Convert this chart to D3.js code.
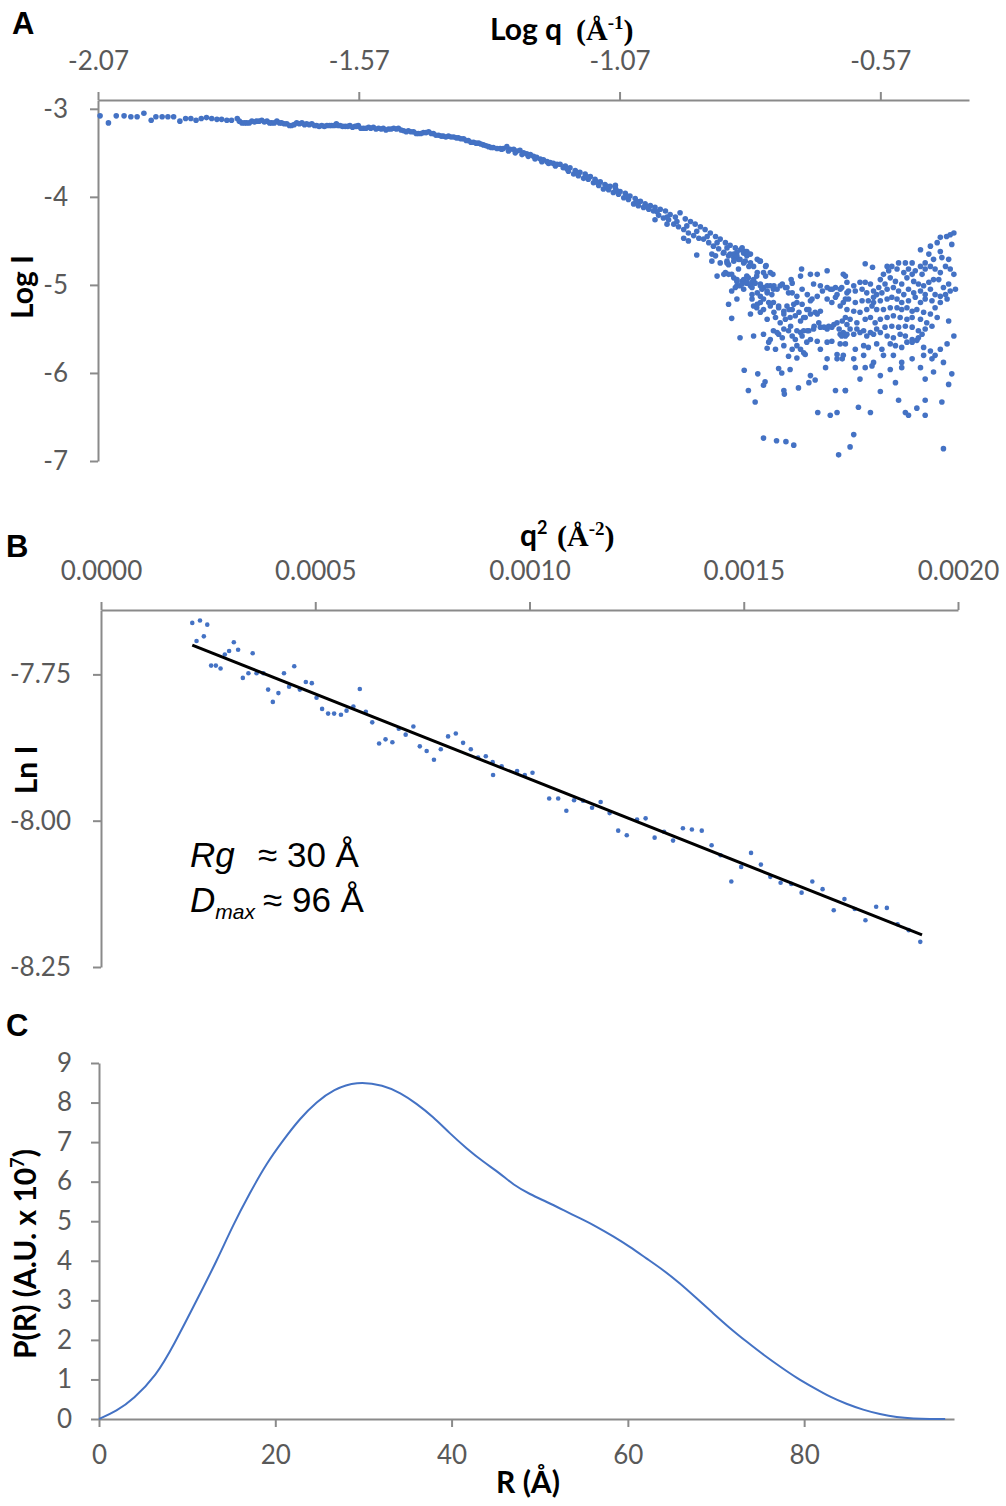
<!DOCTYPE html>
<html><head><meta charset="utf-8">
<script src="https://cdn.jsdelivr.net/npm/d3@7"></script>
<style>body{margin:0;background:#fff}svg{display:block}</style>
</head><body>
<svg id="chart" width="1006" height="1506"></svg>
<script>
// ---------- Panel A: log I vs log q ----------
const logQTicks = [-2.07, -1.57, -1.07, -0.57];
const logITicks = [-3, -4, -5, -6, -7];
const saxsPoints = [
[-2.066,-3.08],[-2.050,-3.16],[-2.035,-3.08],[-2.020,-3.08],[-2.007,-3.09],[-1.995,-3.09],[-1.982,-3.05],[-1.968,-3.13],[-1.959,-3.09],[-1.947,-3.09],[-1.936,-3.09],[-1.925,-3.09],[-1.913,-3.14],[-1.902,-3.11],[-1.892,-3.11],[-1.882,-3.13],[-1.872,-3.11],[-1.862,-3.10],[-1.852,-3.11],[-1.842,-3.12],[-1.833,-3.12],[-1.823,-3.13],[-1.814,-3.13],[-1.803,-3.11],[-1.794,-3.16],[-1.785,-3.16],[-1.775,-3.14],[-1.766,-3.14],[-1.756,-3.13],[-1.746,-3.14],[-1.737,-3.16],[-1.727,-3.14],[-1.718,-3.16],[-1.708,-3.17],[-1.699,-3.19],[-1.689,-3.16],[-1.679,-3.16],[-1.670,-3.17],[-1.660,-3.17],[-1.651,-3.19],[-1.641,-3.19],[-1.631,-3.19],[-1.622,-3.19],[-1.613,-3.17],[-1.606,-3.19],[-1.596,-3.20],[-1.587,-3.19],[-1.577,-3.20],[-1.571,-3.19],[-1.561,-3.22],[-1.551,-3.21],[-1.542,-3.21],[-1.532,-3.22],[-1.523,-3.22],[-1.513,-3.23],[-1.503,-3.22],[-1.494,-3.22],[-1.484,-3.25],[-1.475,-3.25],[-1.465,-3.26],[-1.456,-3.28],[-1.446,-3.27],[-1.436,-3.26],[-1.427,-3.28],[-1.417,-3.30],[-1.408,-3.31],[-1.398,-3.31],[-1.388,-3.32],[-1.379,-3.33],[-1.369,-3.34],[-1.360,-3.36],[-1.350,-3.38],[-1.340,-3.39],[-1.331,-3.41],[-1.321,-3.43],[-1.312,-3.44],[-1.299,-3.45],
[-1.799,-3.14],[-1.789,-3.16],[-1.780,-3.16],[-1.770,-3.15],[-1.761,-3.14],[-1.751,-3.15],[-1.741,-3.16],[-1.732,-3.16],[-1.722,-3.16],[-1.713,-3.17],[-1.703,-3.19],[-1.694,-3.18],[-1.684,-3.17],[-1.674,-3.18],[-1.665,-3.18],[-1.655,-3.19],[-1.646,-3.20],[-1.636,-3.20],[-1.626,-3.19],[-1.617,-3.19],[-1.610,-3.19],[-1.601,-3.20],[-1.591,-3.20],[-1.582,-3.21],[-1.574,-3.20],[-1.566,-3.22],[-1.556,-3.22],[-1.547,-3.22],[-1.537,-3.23],[-1.527,-3.23],[-1.518,-3.24],[-1.508,-3.23],[-1.498,-3.23],[-1.489,-3.24],[-1.479,-3.26],[-1.470,-3.26],[-1.460,-3.28],[-1.451,-3.28],[-1.441,-3.27],[-1.431,-3.28],[-1.422,-3.30],[-1.412,-3.31],[-1.403,-3.32],[-1.393,-3.32],[-1.383,-3.33],[-1.374,-3.34],[-1.364,-3.36],[-1.355,-3.38],[-1.345,-3.39],[-1.336,-3.40],[-1.326,-3.42],[-1.316,-3.44],[-1.305,-3.45],
[-1.293,-3.45],[-1.286,-3.43],[-1.280,-3.46],[-1.273,-3.46],[-1.267,-3.48],[-1.261,-3.47],[-1.254,-3.50],[-1.248,-3.51],[-1.241,-3.52],[-1.235,-3.54],[-1.229,-3.55],[-1.222,-3.57],[-1.216,-3.58],[-1.209,-3.60],[-1.203,-3.61],[-1.197,-3.62],[-1.190,-3.63],[-1.296,-3.46],[-1.283,-3.48],[-1.270,-3.50],[-1.257,-3.52],[-1.245,-3.54],[-1.232,-3.57],[-1.219,-3.60],[-1.206,-3.62],[-1.193,-3.65],
[-1.184,-3.63],[-1.174,-3.65],[-1.165,-3.67],[-1.155,-3.70],[-1.146,-3.72],[-1.136,-3.74],[-1.126,-3.77],[-1.117,-3.80],[-1.107,-3.83],[-1.098,-3.86],[-1.088,-3.88],[-1.078,-3.90],[-1.069,-3.94],[-1.059,-3.96],[-1.050,-3.99],[-1.040,-4.02],[-1.030,-4.05],[-1.021,-4.08],[-1.011,-4.10],[-1.002,-4.12],[-0.992,-4.14],[-0.982,-4.16],[-0.973,-4.20],[-0.963,-4.23],[-0.954,-4.18],[-0.944,-4.25],[-0.934,-4.28],[-0.925,-4.31],[-0.915,-4.34],[-0.906,-4.37],[-0.896,-4.41],[-0.886,-4.45],[-0.877,-4.48],[-0.867,-4.52],[-0.858,-4.55],[-0.848,-4.58],[-0.838,-4.60],[-0.829,-4.62],[-0.819,-4.65],
[-1.178,-3.67],[-1.168,-3.71],[-1.158,-3.74],[-1.149,-3.76],[-1.139,-3.79],[-1.130,-3.80],[-1.120,-3.84],[-1.110,-3.87],[-1.101,-3.91],[-1.091,-3.92],[-1.082,-3.95],[-1.072,-3.97],[-1.062,-4.01],[-1.053,-4.03],[-1.043,-4.08],[-1.034,-4.10],[-1.024,-4.12],[-1.014,-4.14],[-1.005,-4.16],[-0.995,-4.21],[-0.986,-4.24],[-0.976,-4.26],[-0.966,-4.31],[-0.957,-4.34],[-0.947,-4.37],[-0.938,-4.41],[-0.928,-4.44],[-0.918,-4.47],[-0.909,-4.48],[-0.899,-4.52],[-0.890,-4.56],[-0.880,-4.59],[-0.870,-4.63],[-0.861,-4.67],[-0.851,-4.69],[-0.842,-4.71],[-0.832,-4.75],[-0.822,-4.79],
[-1.171,-3.68],[-1.152,-3.72],[-1.133,-3.77],[-1.114,-3.83],[-1.094,-3.88],[-1.075,-3.93],[-1.056,-3.99],[-1.037,-4.05],[-1.018,-4.11],[-0.998,-4.17],[-0.979,-4.23],[-0.960,-4.28],[-0.941,-4.33],[-0.922,-4.39],[-0.902,-4.45],[-0.883,-4.52],[-0.864,-4.58],[-0.845,-4.63],[-0.826,-4.67],[-0.806,-4.71],
[-1.078,-3.87],[-1.002,-4.26],[-0.979,-4.31],[-0.947,-4.47],[-0.938,-4.50],[-0.922,-4.66],[-0.893,-4.65],[-0.883,-4.90],[-0.870,-4.88],[-0.861,-4.88],[-0.851,-4.92],[-0.845,-5.01],[-0.835,-4.96],[-0.826,-4.90],[-0.816,-4.97],[-0.806,-4.86],[-0.800,-5.01],[-0.790,-4.90],[-0.781,-4.86],[-0.774,-5.01],[-0.787,-5.09],[-0.800,-5.13],[-0.816,-5.11],[-0.832,-5.05],[-0.813,-4.79],[-0.800,-4.73],[-0.790,-4.79],[-0.835,-4.58],[-0.826,-4.62],[-0.851,-4.65],[-0.864,-4.73],[-0.877,-4.75],[-0.886,-4.67],[-0.893,-4.73],
[-0.871,-4.64],[-0.858,-4.65],[-0.845,-4.67],[-0.832,-4.64],[-0.823,-4.65],[-0.839,-4.71],[-0.851,-4.73],[-0.864,-4.75],[-0.829,-4.73],[-0.819,-4.75],[-0.867,-4.86],[-0.855,-4.88],[-0.842,-4.82],[-0.861,-4.77],
[-0.801,-4.73],[-0.789,-4.78],[-0.776,-4.88],[-0.794,-4.86],[-0.807,-4.90],[-0.813,-4.94],[-0.823,-4.92],[-0.832,-4.94],[-0.845,-4.96],[-0.848,-5.03],[-0.855,-5.07],[-0.839,-5.01],[-0.826,-4.98],[-0.819,-5.01],[-0.810,-4.98],[-0.800,-4.99],[-0.794,-5.03],[-0.787,-5.07],[-0.781,-5.01],[-0.775,-5.05],[-0.762,-5.01],[-0.752,-5.03],[-0.746,-5.09],[-0.739,-4.98],[-0.741,-4.94],[-0.723,-4.90],[-0.721,-4.82],[-0.704,-4.88],[-0.698,-4.99],[-0.691,-4.88],[-0.685,-5.01],[-0.672,-4.84],[-0.666,-5.05],[-0.656,-5.03],[-0.647,-5.05],[-0.637,-4.90],[-0.634,-5.09],
[-0.861,-5.22],[-0.845,-5.16],[-0.813,-5.24],[-0.807,-5.26],[-0.800,-5.20],[-0.794,-5.16],[-0.781,-5.24],[-0.775,-5.20],[-0.765,-5.26],[-0.755,-5.30],[-0.749,-5.24],[-0.739,-5.28],[-0.730,-5.20],[-0.720,-5.22],[-0.711,-5.28],[-0.704,-5.18],[-0.695,-5.31],[-0.685,-5.30],[-0.672,-5.16],[-0.663,-5.20],[-0.656,-5.14],[-0.647,-5.24],[-0.637,-5.16],
[-0.855,-5.38],[-0.819,-5.33],[-0.800,-5.31],[-0.787,-5.39],[-0.771,-5.37],[-0.762,-5.43],[-0.752,-5.39],[-0.743,-5.37],[-0.733,-5.35],[-0.723,-5.41],[-0.714,-5.37],[-0.704,-5.33],[-0.691,-5.33],[-0.685,-5.48],[-0.672,-5.50],[-0.663,-5.48],[-0.653,-5.43],[-0.643,-5.41],[-0.634,-5.45],
[-0.839,-5.60],[-0.813,-5.58],[-0.794,-5.56],[-0.775,-5.52],[-0.765,-5.56],[-0.755,-5.50],[-0.746,-5.52],[-0.739,-5.58],[-0.733,-5.62],[-0.723,-5.54],[-0.717,-5.52],[-0.707,-5.52],[-0.698,-5.50],[-0.647,-5.56],[-0.637,-5.58],
[-0.784,-5.65],[-0.787,-5.72],[-0.771,-5.73],[-0.755,-5.69],[-0.739,-5.73],[-0.730,-5.69],[-0.723,-5.73],[-0.717,-5.77],[-0.711,-5.65],[-0.704,-5.62],[-0.691,-5.64],[-0.685,-5.73],[-0.672,-5.65],[-0.663,-5.64],[-0.647,-5.67],[-0.653,-5.79],
[-0.746,-5.81],[-0.730,-5.83],[-0.714,-5.79],[-0.672,-5.84],[-0.675,-5.94],[-0.653,-5.84],[-0.643,-5.84],
[-0.831,-5.97],[-0.805,-6.01],[-0.791,-6.10],[-0.794,-6.14],[-0.765,-5.95],[-0.759,-6.00],[-0.743,-5.96],[-0.704,-6.03],[-0.695,-6.08],[-0.707,-6.11],
[-0.823,-6.20],[-0.755,-6.20],[-0.754,-6.24],[-0.727,-6.17],[-0.656,-6.20],[-0.637,-6.20],[-0.810,-6.33],[-0.690,-6.45],[-0.666,-6.48],[-0.653,-6.45],[-0.794,-6.74],[-0.769,-6.77],[-0.751,-6.78],[-0.736,-6.82],[-0.650,-6.93],
[-0.845,-4.94],[-0.835,-4.99],[-0.826,-4.97],[-0.816,-5.03],[-0.806,-5.09],[-0.797,-5.05],[-0.787,-5.01],[-0.778,-5.11],[-0.768,-5.05],[-0.758,-4.99],[-0.749,-5.03],[-0.739,-5.09],[-0.730,-5.13],[-0.720,-5.05],[-0.710,-5.11],[-0.701,-5.16],[-0.691,-5.13],[-0.681,-5.07],[-0.672,-5.03],[-0.662,-5.05],[-0.653,-5.11],
[-0.816,-5.16],[-0.806,-5.22],[-0.794,-5.28],[-0.784,-5.20],[-0.774,-5.31],[-0.765,-5.24],[-0.755,-5.33],[-0.745,-5.28],[-0.736,-5.22],[-0.726,-5.31],[-0.717,-5.37],[-0.707,-5.28],[-0.697,-5.47],[-0.688,-5.43],[-0.678,-5.48],[-0.669,-5.47],[-0.659,-5.45],[-0.649,-5.50],[-0.742,-5.47],[-0.730,-5.52],[-0.720,-5.58],[-0.710,-5.52],[-0.768,-5.54],[-0.758,-5.60],[-0.781,-5.62],
[-0.429,-4.41],[-0.436,-4.43],[-0.443,-4.45],[-0.455,-4.46],[-0.461,-4.52],[-0.433,-4.54],[-0.455,-4.62],[-0.474,-4.56],[-0.493,-4.60],[-0.477,-4.65],[-0.452,-4.69],[-0.439,-4.71],[-0.468,-4.71],[-0.484,-4.75],[-0.493,-4.79],[-0.509,-4.75],[-0.522,-4.75],[-0.535,-4.75],[-0.548,-4.79],[-0.554,-4.84],[-0.557,-4.79],[-0.564,-4.88],[-0.570,-4.94],[-0.538,-4.82],[-0.525,-4.86],[-0.516,-4.82],[-0.509,-4.88],[-0.503,-4.84],[-0.490,-4.88],[-0.484,-4.82],[-0.474,-4.79],[-0.465,-4.82],[-0.455,-4.86],[-0.445,-4.79],[-0.436,-4.82],[-0.429,-4.88],[-0.426,-5.05],[-0.439,-4.99],[-0.449,-5.03],[-0.458,-4.94],[-0.468,-4.94],[-0.477,-4.97],[-0.487,-5.01],[-0.497,-4.99],[-0.506,-4.96],[-0.519,-4.92],[-0.529,-4.99],[-0.541,-4.96],[-0.551,-4.92],[-0.561,-4.99],[-0.573,-5.03],[-0.583,-5.07],[-0.589,-4.99],[-0.599,-4.97],[-0.609,-4.97],[-0.621,-5.01],[-0.634,-4.97],[-0.641,-4.88],[-0.644,-5.03],[-0.631,-5.07],[-0.618,-5.07],[-0.605,-5.05],[-0.596,-5.09],[-0.583,-5.14],[-0.577,-5.11],[-0.567,-5.09],[-0.557,-5.05],[-0.545,-5.03],[-0.535,-5.07],[-0.525,-5.11],[-0.516,-5.05],[-0.506,-5.09],[-0.493,-5.07],[-0.484,-5.11],[-0.474,-5.05],[-0.465,-5.11],[-0.455,-5.13],[-0.445,-5.11],[-0.436,-5.07],[-0.442,-5.16],[-0.455,-5.20],[-0.465,-5.26],[-0.471,-5.18],[-0.484,-5.16],[-0.493,-5.20],[-0.503,-5.14],[-0.516,-5.18],[-0.529,-5.20],[-0.538,-5.16],[-0.548,-5.14],[-0.557,-5.16],[-0.570,-5.18],[-0.583,-5.20],[-0.593,-5.18],[-0.605,-5.18],[-0.618,-5.20],[-0.631,-5.16],[-0.641,-5.20],[-0.634,-5.28],[-0.621,-5.30],[-0.609,-5.31],[-0.596,-5.28],[-0.586,-5.24],[-0.577,-5.28],[-0.564,-5.28],[-0.551,-5.26],[-0.538,-5.26],[-0.529,-5.28],[-0.519,-5.26],[-0.509,-5.30],[-0.500,-5.28],[-0.487,-5.31],[-0.474,-5.33],[-0.461,-5.37],[-0.637,-5.37],[-0.628,-5.39],[-0.615,-5.43],[-0.599,-5.39],[-0.589,-5.37],[-0.580,-5.43],[-0.570,-5.39],[-0.557,-5.37],[-0.545,-5.35],[-0.532,-5.37],[-0.519,-5.39],[-0.509,-5.37],[-0.493,-5.39],[-0.481,-5.43],[-0.471,-5.47],[-0.484,-5.50],[-0.497,-5.52],[-0.509,-5.48],[-0.522,-5.47],[-0.535,-5.48],[-0.548,-5.47],[-0.561,-5.48],[-0.577,-5.50],[-0.589,-5.54],[-0.602,-5.52],[-0.615,-5.50],[-0.628,-5.50],[-0.641,-5.54],[-0.644,-5.58],[-0.634,-5.56],[-0.621,-5.56],[-0.609,-5.54],[-0.596,-5.58],[-0.583,-5.56],[-0.570,-5.54],[-0.557,-5.58],[-0.545,-5.60],[-0.532,-5.56],[-0.522,-5.58],[-0.509,-5.62],[-0.497,-5.60],[-0.490,-5.56],[-0.439,-5.41],[-0.429,-5.58],
[-0.637,-5.67],[-0.618,-5.73],[-0.602,-5.69],[-0.593,-5.71],[-0.577,-5.67],[-0.567,-5.73],[-0.551,-5.67],[-0.541,-5.69],[-0.529,-5.71],[-0.519,-5.65],[-0.509,-5.65],[-0.500,-5.63],[-0.487,-5.71],[-0.474,-5.75],[-0.465,-5.80],[-0.455,-5.73],[-0.442,-5.67],[-0.641,-5.80],[-0.621,-5.84],[-0.602,-5.80],[-0.583,-5.88],[-0.564,-5.80],[-0.545,-5.80],[-0.529,-5.88],[-0.509,-5.84],[-0.487,-5.80],[-0.471,-5.84],[-0.618,-5.94],[-0.599,-5.94],[-0.586,-5.92],[-0.551,-5.96],[-0.529,-5.94],[-0.493,-5.94],[-0.449,-5.88],[-0.433,-6.01],[-0.609,-6.07],[-0.570,-6.03],[-0.541,-6.11],[-0.484,-6.07],[-0.468,-5.99],[-0.439,-6.13],[-0.637,-6.20],[-0.570,-6.21],[-0.612,-6.39],[-0.589,-6.45],[-0.535,-6.31],[-0.522,-6.45],[-0.516,-6.48],[-0.500,-6.40],[-0.484,-6.31],[-0.484,-6.48],[-0.452,-6.33],[-0.621,-6.70],[-0.628,-6.84],[-0.449,-6.86],[-0.599,-4.76],[-0.585,-4.80]
];

// ---------- Panel B: Guinier plot ----------
const q2Ticks = [0, 0.0005, 0.0010, 0.0015, 0.0020];
const lnITicks = [-7.75, -8.00, -8.25];
const guinierPoints = [
[0.000213,-7.662],[0.000231,-7.658],[0.000248,-7.665],[0.000223,-7.693],[0.000240,-7.685],[0.000257,-7.735],[0.000268,-7.735],[0.000279,-7.740],[0.000289,-7.716],[0.000299,-7.710],[0.000310,-7.695],[0.000320,-7.708],[0.000331,-7.756],[0.000344,-7.748],[0.000354,-7.714],[0.000363,-7.748],[0.000379,-7.748],[0.000390,-7.776],[0.000401,-7.797],[0.000414,-7.782],[0.000427,-7.748],[0.000439,-7.771],[0.000451,-7.736],[0.000464,-7.776],[0.000478,-7.763],[0.000492,-7.765],[0.000503,-7.790],[0.000516,-7.809],[0.000530,-7.817],[0.000544,-7.817],[0.000560,-7.819],[0.000573,-7.812],[0.000589,-7.805],[0.000604,-7.775],[0.000618,-7.814],[0.000633,-7.832],[0.000649,-7.868],[0.000664,-7.861],[0.000680,-7.866],[0.000695,-7.843],[0.000711,-7.853],[0.000729,-7.839],[0.000744,-7.873],[0.000760,-7.881],[0.000777,-7.896],[0.000793,-7.878],[0.000810,-7.856],[0.000828,-7.851],[0.000845,-7.867],[0.000863,-7.878],[0.000880,-7.892],[0.000898,-7.890],[0.000914,-7.900],
[0.000915,-7.922],[0.000935,-7.907],[0.000971,-7.915],[0.000989,-7.922],[0.001007,-7.918],[0.001046,-7.962],[0.001067,-7.962],[0.001086,-7.983],[0.001104,-7.965],[0.001125,-7.966],[0.001146,-7.978],[0.001166,-7.968],[0.001187,-7.987],[0.001207,-8.017],[0.001227,-8.025],[0.001251,-7.998],[0.001271,-7.996],[0.001292,-8.029],[0.001314,-8.019],[0.001335,-8.034],[0.001358,-8.013],[0.001379,-8.015],[0.001402,-8.017],[0.001425,-8.042],[0.001446,-8.059],[0.001471,-8.104],[0.001494,-8.079],[0.001517,-8.055],[0.001540,-8.075],[0.001562,-8.096],[0.001586,-8.106],[0.001611,-8.108],[0.001635,-8.123],[0.001660,-8.104],[0.001684,-8.117],[0.001710,-8.153],[0.001735,-8.134],[0.001759,-8.151],[0.001784,-8.170],[0.001809,-8.147],[0.001834,-8.149],[0.001859,-8.177],[0.001885,-8.187],[0.001912,-8.207]
];
const fitQ2 = [0.000213, 0.001916];
const fitLnI = [-7.700, -8.195];

// ---------- Panel C: P(R) ----------
const rTicks = [0, 20, 40, 60, 80];
const pTicks = [0, 1, 2, 3, 4, 5, 6, 7, 8, 9];
const prR = [0,2,3.9,6.5,8.4,11.5,13.4,15.2,17.1,19.0,20.9,22.8,24.7,26.6,29.2,32.3,34.2,36.0,37.9,39.8,41.7,43.6,45.5,47.0,48.9,50.8,52.7,54.6,56.5,58.4,60.2,62.1,64.0,65.9,67.8,69.7,71.6,73.5,75.4,77.3,79.2,81.0,82.9,84.8,86.7,88.6,90.5,92.4,94.3,96.0];
const prP = [0,0.2,0.5,1.1,1.83,3.18,4.02,4.90,5.71,6.46,7.05,7.60,8.02,8.33,8.54,8.44,8.24,7.98,7.64,7.22,6.84,6.50,6.21,5.92,5.68,5.49,5.28,5.07,4.86,4.61,4.36,4.06,3.77,3.43,3.05,2.67,2.29,1.95,1.62,1.32,1.03,0.80,0.56,0.38,0.23,0.12,0.04,0.01,0.0,0];

// ---------- drawing ----------
const svg = d3.select("#chart");
const AXIS = "#8a8a8a", LABEL = "#595959", BLUE = "#4472C4";
const SANS = "Lato, 'Open Sans', sans-serif";
const SERIF = "'Liberation Serif', 'DejaVu Serif', serif";
const ARIAL = "'Liberation Sans', Arial, sans-serif";

function styleAxis(g) {
  g.attr("font-family", SANS).attr("font-size", 26);
  g.select(".domain").attr("stroke", AXIS).attr("stroke-width", 2);
  g.selectAll(".tick line").attr("stroke", AXIS).attr("stroke-width", 2);
  g.selectAll(".tick text").attr("fill", LABEL);
}
function panelLabel(t, x, y) {
  svg.append("text").attr("x", x).attr("y", y).attr("font-family", ARIAL)
    .attr("font-weight", "bold").attr("font-size", 31).attr("fill", "#000").text(t);
}

// Panel A
const xA = d3.scaleLinear().domain([-2.07, -0.40]).range([98, 969]);
const yA = d3.scaleLinear().domain([-7, -2.9]).range([461, 100]);
svg.append("g").attr("transform", "translate(0,100)")
  .call(d3.axisTop(xA).tickValues(logQTicks).tickFormat(d => d.toFixed(2)).tickSize(8).tickSizeOuter(0).tickPadding(22))
  .call(styleAxis);
svg.append("g").attr("transform", "translate(98,0)")
  .call(d3.axisLeft(yA).tickValues(logITicks).tickFormat(d => String(d)).tickSize(8).tickSizeOuter(0).tickPadding(22))
  .call(styleAxis);
svg.append("g").selectAll("circle").data(saxsPoints).join("circle")
  .attr("cx", d => xA(d[0])).attr("cy", d => yA(d[1])).attr("r", 2.8).attr("fill", BLUE);

const tA = svg.append("text").attr("y", 40).attr("font-weight", "bold").attr("fill", "#000");
tA.append("tspan").attr("x", 490).attr("font-family", SANS).attr("font-size", 30).text("Log q");
tA.append("tspan").attr("x", 576).attr("font-family", SERIF).attr("font-size", 30).text("(Å");
tA.append("tspan").attr("font-family", SERIF).attr("font-size", 19).attr("dy", -11).text("-1");
tA.append("tspan").attr("font-family", SERIF).attr("font-size", 30).attr("dy", 11).text(")");
svg.append("text").attr("transform", "translate(33,287) rotate(-90)").attr("text-anchor", "middle")
  .attr("font-family", SANS).attr("font-weight", "bold").attr("font-size", 30).text("Log I");
panelLabel("A", 12, 34);

// Panel B
const xB = d3.scaleLinear().domain([0, 0.002]).range([101, 958]);
const yB = d3.scaleLinear().domain([-8.25, -7.64]).range([967, 610]);
svg.append("g").attr("transform", "translate(0,610)")
  .call(d3.axisTop(xB).tickValues(q2Ticks).tickFormat(d => d.toFixed(4)).tickSize(8).tickSizeOuter(0).tickPadding(22))
  .call(styleAxis);
svg.append("g").attr("transform", "translate(101,0)")
  .call(d3.axisLeft(yB).tickValues(lnITicks).tickFormat(d => d.toFixed(2)).tickSize(8).tickSizeOuter(0).tickPadding(22))
  .call(styleAxis);
svg.append("g").selectAll("circle").data(guinierPoints).join("circle")
  .attr("cx", d => xB(d[0])).attr("cy", d => yB(d[1])).attr("r", 2.3).attr("fill", BLUE);
svg.append("path").datum(fitQ2.map((q, i) => [q, fitLnI[i]]))
  .attr("d", d3.line().x(d => xB(d[0])).y(d => yB(d[1])))
  .attr("stroke", "#000").attr("stroke-width", 3).attr("fill", "none");

const tB = svg.append("text").attr("y", 546).attr("font-weight", "bold").attr("fill", "#000");
tB.append("tspan").attr("x", 520).attr("font-family", SANS).attr("font-size", 30).text("q");
tB.append("tspan").attr("font-family", SANS).attr("font-size", 18).attr("dy", -12).text("2");
tB.append("tspan").attr("x", 557).attr("dy", 12).attr("font-family", SERIF).attr("font-size", 30).text("(Å");
tB.append("tspan").attr("font-family", SERIF).attr("font-size", 19).attr("dy", -11).text("-2");
tB.append("tspan").attr("font-family", SERIF).attr("font-size", 30).attr("dy", 11).text(")");
svg.append("text").attr("transform", "translate(37,770) rotate(-90)").attr("text-anchor", "middle")
  .attr("font-family", SANS).attr("font-weight", "bold").attr("font-size", 30).text("Ln I");
panelLabel("B", 6, 557);

const r1 = svg.append("text").attr("y", 867).attr("font-family", ARIAL).attr("font-size", 35).attr("fill", "#000");
r1.append("tspan").attr("x", 190).attr("font-style", "italic").text("Rg");
r1.append("tspan").attr("x", 258).text("≈ 30 Å");
const r2 = svg.append("text").attr("y", 912).attr("font-family", ARIAL).attr("font-size", 35).attr("fill", "#000");
r2.append("tspan").attr("x", 190).attr("font-style", "italic").text("D");
r2.append("tspan").attr("font-style", "italic").attr("font-size", 21).attr("dy", 7).text("max");
r2.append("tspan").attr("x", 263).attr("dy", -7).text("≈ 96 Å");

// Panel C
const xC = d3.scaleLinear().domain([0, 97]).range([99, 954]);
const yC = d3.scaleLinear().domain([0, 9]).range([1419, 1063]);
svg.append("g").attr("transform", "translate(0,1419)")
  .call(d3.axisBottom(xC).tickValues(rTicks).tickFormat(d => String(d)).tickSize(8).tickSizeOuter(0).tickPadding(19))
  .call(styleAxis);
svg.append("g").attr("transform", "translate(99,0)")
  .call(d3.axisLeft(yC).tickValues(pTicks).tickFormat(d => String(d)).tickSize(8).tickSizeOuter(0).tickPadding(19))
  .call(styleAxis);
svg.append("path").datum(prR.map((r, i) => [r, prP[i]]))
  .attr("d", d3.line().x(d => xC(d[0])).y(d => yC(d[1])).curve(d3.curveBasis))
  .attr("stroke", BLUE).attr("stroke-width", 2).attr("fill", "none");

svg.append("text").attr("x", 528).attr("y", 1493).attr("text-anchor", "middle")
  .attr("font-family", SANS).attr("font-weight", "bold").attr("font-size", 30).text("R (Å)");
const tC = svg.append("text").attr("transform", "translate(36,1254) rotate(-90)").attr("text-anchor", "middle")
  .attr("font-family", SANS).attr("font-weight", "bold").attr("font-size", 30);
tC.append("tspan").text("P(R) (A.U. x 10");
tC.append("tspan").attr("font-size", 18).attr("dy", -12).text("7");
tC.append("tspan").attr("dy", 12).text(")");
panelLabel("C", 6, 1036);
</script>
</body></html>
